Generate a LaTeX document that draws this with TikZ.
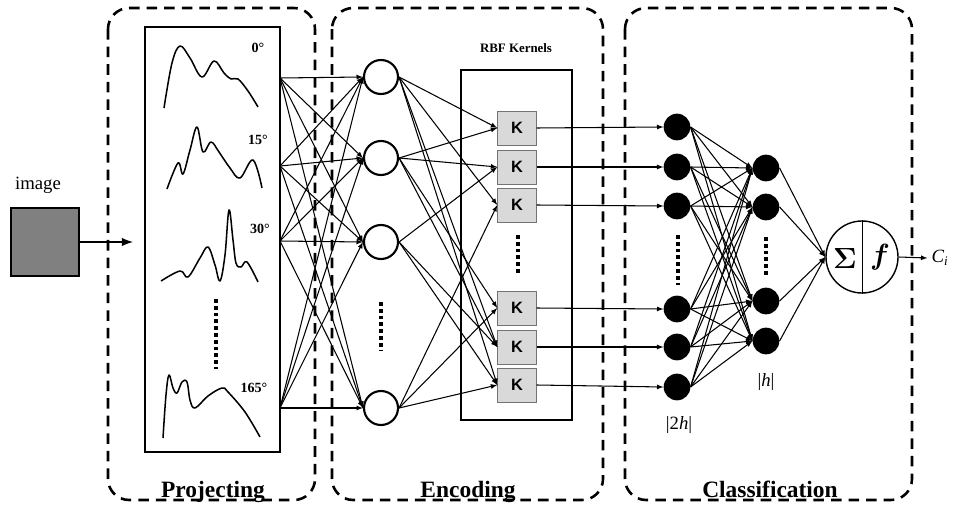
\documentclass[tikz,border=0pt]{standalone}
\usepackage{fontspec}
\setmainfont{Liberation Serif}
\setsansfont{Liberation Sans}
\usepackage{amsmath, bm}
\usetikzlibrary{arrows, positioning, calc}
\definecolor{kernelgray}{RGB}{217,217,217}
\definecolor{imagegray}{RGB}{128,128,128}

\begin{document}
\begin{tikzpicture}[
    x=0.03cm, y=-0.03cm,
    stage/.style={line width=2.2pt, rounded corners=18pt, dash pattern=on 9pt off 6pt},
    stagelabel/.style={anchor=base, font=\fontsize{20}{24}\selectfont\bfseries},
    angle/.style={font=\fontsize{12}{14}\selectfont\bfseries},
    signal/.style={line width=1.3pt, line join=round},
    neuron/.style={circle, draw, line width=1.8pt, minimum size=1.02cm, inner sep=0pt},
    hidden/.style={circle, fill=black, minimum size=0.8cm, inner sep=0pt},
    kbox/.style={rectangle, draw=black!55, fill=kernelgray, minimum width=1.17cm, minimum height=1.02cm, inner sep=0pt, font=\sffamily\bfseries\fontsize{14}{16}\selectfont},
    link/.style={-latex, line width=0.9pt},
    skip/.style={line width=2.6pt, dash pattern=on 3.2pt off 2.6pt},
    mathlabel/.style={font=\fontsize{16}{18}\selectfont}
]
\useasboundingbox (0,0) rectangle (956,510);

% stages
\draw[stage] (108,8) rectangle (315,500);
\draw[stage] (332,8) rectangle (603,500);
\draw[stage] (625,8) rectangle (912,500);
\node[stagelabel] (lproj) at (213,497) {Projecting};
\node[stagelabel] (lenc) at (468,497) {Encoding};
\node[stagelabel] (lcls) at (770,497) {Classification};

% input image
\node[font=\fontsize{16}{18}\selectfont] (imglabel) at (38,185) {image};
\node[draw, line width=2pt, fill=imagegray, minimum size=2.05cm, inner sep=0pt] (img) at (45,242) {};
\coordinate (imgin) at (133,242);
\draw[-latex, line width=2.2pt] (img.east) -- (imgin);

% projections
\draw[line width=1pt] (145,27) rectangle (280,452);
\draw[signal] plot[smooth, tension=0.6] coordinates {(164,108) (172,63) (180,46) (190,58) (202,77) (214,61) (224,73) (231,79) (238,79) (248,91) (258,107)};
\draw[signal] plot[smooth, tension=0.6] coordinates {(167,189) (178,163) (183,174) (190,150) (197,127) (203,152) (211,142) (219,152) (230,168) (240,178) (253,160) (262,188)};
\draw[signal] plot[smooth, tension=0.6] coordinates {(161,281) (180,271) (188,277) (200,258) (208,247) (215,265) (220,281) (225,255) (229,210) (233,240) (236,263) (241,267) (247,262) (258,282)};
\draw[signal] plot[smooth, tension=0.6] coordinates {(163,438) (166,395) (169,375) (173,388) (177,393) (182,382) (187,382) (190,400) (195,408) (208,396) (222,388) (228,392) (245,412) (260,437)};
\node[angle] (a0) at (258,48) {0°};
\node[angle] (a15) at (258,140) {15°};
\node[angle] (a30) at (260,229) {30°};
\node[angle] (a165) at (254,388) {165°};
\draw[skip] (216,299) -- (216,369);

\coordinate (p1) at (280,78);
\coordinate (p2) at (280,166);
\coordinate (p3) at (280,241);
\coordinate (p4) at (280,408);

% encoding
\node[neuron] (n1) at (381,77) {};
\node[neuron] (n2) at (381,158) {};
\node[neuron] (n3) at (381,242) {};
\node[neuron] (n4) at (381,408) {};
\draw[skip] (381,302) -- (381,350);

\draw[line width=1pt] (461,70) rectangle (572,420);
\node[font=\fontsize{11}{13}\selectfont\bfseries] (rbf) at (516,48) {RBF Kernels};
\node[kbox] (k1) at (517,128) {K};
\node[kbox] (k2) at (517,167) {K};
\node[kbox] (k3) at (517,205) {K};
\node[kbox] (k4) at (517,308) {K};
\node[kbox] (k5) at (517,347) {K};
\node[kbox] (k6) at (517,385) {K};
\draw[skip] (518,235) -- (518,275);

\foreach \i in {1,...,4}
  \foreach \j in {1,...,4}
    \draw[link] (p\i) -- (n\j.west);
\foreach \i/\j in {1/1,1/3,1/5,1/6,2/1,2/2,2/4,2/5,3/2,3/5,3/6,4/3,4/4,4/6}
  \draw[link] (n\i.east) -- (k\j.west);

% classification
\node[hidden] (a1) at (677,127) {};
\node[hidden] (a2) at (677,167) {};
\node[hidden] (a3) at (677,206) {};
\node[hidden] (a4) at (677,309) {};
\node[hidden] (a5) at (677,347) {};
\node[hidden] (a6) at (677,387) {};
\draw[skip] (678,235) -- (678,285);
\node[hidden] (b1) at (766,168) {};
\node[hidden] (b2) at (766,207) {};
\node[hidden] (b3) at (766,301) {};
\node[hidden] (b4) at (766,341) {};
\draw[skip] (766,237) -- (766,277);
\node[mathlabel] (l2h) at (679,425) {|2\textit{h}|};
\node[mathlabel] (lh) at (766,382) {|\textit{h}|};

\foreach \i in {1,...,6}
  \draw[link] (k\i.east) -- (a\i.west);
\foreach \i in {1,...,6}
  \foreach \j in {1,...,4}
    \draw[link] (a\i.east) -- (b\j.west);

\node[circle, draw, line width=1.2pt, minimum size=2.16cm, inner sep=0pt] (sum) at (862,257) {};
\draw[line width=0.8pt] (sum.north) -- (sum.south);
\node[font=\fontsize{24}{26}\selectfont] (sig) at (845,258) {$\boldsymbol{\Sigma}$};
\node[font=\fontsize{24}{26}\selectfont] (fn) at (880,257) {$\bm{f}$};
\foreach \j in {1,...,4}
  \draw[link] (b\j.east) -- (sum.west);
\node[mathlabel] (ci) at (940,258) {\textit{C}\textsubscript{\textit{i}}};
\draw[link] (sum.east) -- (ci.west);
\end{tikzpicture}
\end{document}
